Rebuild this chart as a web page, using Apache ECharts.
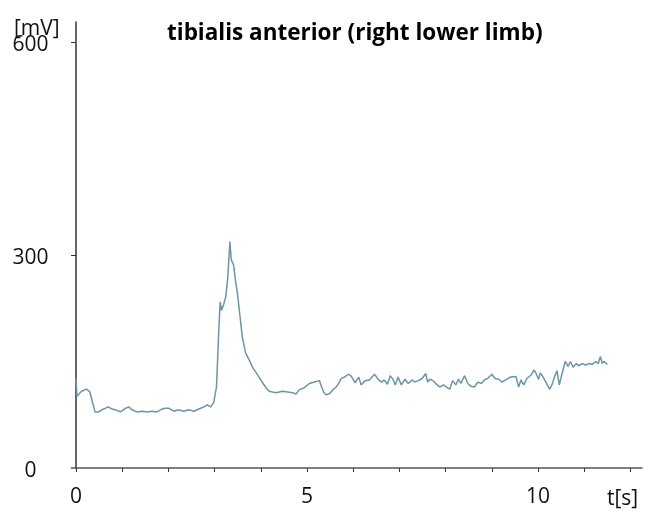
<!DOCTYPE html>
<html>
<head>
<meta charset="utf-8">
<script src="https://cdn.jsdelivr.net/npm/echarts@6/dist/echarts.min.js"></script>
<style>
  html, body { margin: 0; padding: 0; background: #fff; }
  #chart { width: 657px; height: 512px; }
</style>
</head>
<body>
<div id="chart"></div>
<script>
// time [s] and amplitude [mV]
var times = [
  0.00, 0.02, 0.12, 0.23, 0.30, 0.41, 0.49, 0.56, 0.63, 0.70, 0.78, 0.85, 0.96,
  1.07, 1.14, 1.21, 1.32, 1.43, 1.54, 1.65, 1.75, 1.86, 1.93, 2.01, 2.12, 2.22,
  2.33, 2.44, 2.55, 2.66, 2.77, 2.84, 2.91, 2.98, 3.04, 3.09, 3.12, 3.15, 3.19,
  3.24, 3.28, 3.33, 3.36, 3.41, 3.46, 3.49, 3.55, 3.60, 3.67, 3.75, 3.82, 3.89,
  3.96, 4.04, 4.11, 4.18, 4.25, 4.33, 4.40, 4.47, 4.58, 4.69, 4.76, 4.83, 4.94,
  5.05, 5.16, 5.27, 5.30, 5.36, 5.41, 5.49, 5.56, 5.63, 5.70, 5.74, 5.81, 5.90,
  5.96, 6.04, 6.12, 6.17, 6.26, 6.35, 6.46, 6.54, 6.61, 6.67, 6.74, 6.80, 6.86,
  6.91, 6.97, 7.04, 7.12, 7.19, 7.28, 7.33, 7.41, 7.49, 7.57, 7.61, 7.66, 7.73,
  7.80, 7.88, 7.95, 8.02, 8.09, 8.15, 8.22, 8.28, 8.33, 8.41, 8.48, 8.55, 8.62,
  8.70, 8.77, 8.84, 8.91, 9.00, 9.07, 9.15, 9.22, 9.30, 9.40, 9.52, 9.58, 9.63,
  9.69, 9.76, 9.85, 9.91, 9.96, 10.01, 10.05, 10.10, 10.17, 10.25, 10.30, 10.36,
  10.41, 10.46, 10.52, 10.59, 10.65, 10.70, 10.76, 10.83, 10.88, 10.96, 11.03,
  11.10, 11.17, 11.25, 11.30, 11.35, 11.39, 11.43, 11.50
];
var values = [
  127, 101, 108, 111, 107, 79, 79, 82, 84, 86, 83, 82, 79,
  84, 86, 82, 79, 80, 79, 80, 79, 83, 84, 84, 80, 82,
  80, 82, 80, 83, 86, 89, 86, 92, 114, 194, 234, 222, 229,
  241, 265, 319, 293, 286, 260, 248, 213, 184, 162, 152, 142, 135,
  128, 120, 113, 108, 107, 106, 107, 108, 107, 106, 104, 110, 113,
  119, 121, 123, 117, 107, 103, 105, 110, 114, 121, 126, 128, 132,
  129, 120, 128, 117, 123, 124, 132, 125, 121, 124, 118, 130, 125,
  117, 128, 117, 125, 119, 124, 121, 123, 126, 133, 121, 125, 123,
  118, 114, 117, 114, 111, 123, 117, 125, 119, 130, 119, 115, 114,
  121, 119, 124, 126, 132, 126, 125, 121, 124, 128, 129, 114, 124,
  117, 126, 131, 138, 133, 125, 134, 129, 121, 111, 117, 129,
  137, 117, 133, 150, 143, 150, 142, 147, 144, 147, 145,
  147, 146, 150, 147, 157, 147, 150, 146
];
var xTicks = [0, 1, 2, 3, 4, 5, 6, 7, 8, 9, 10, 11, 12];
var xLabels = [0, 5, 10];
var yTicks = [300, 600];
var yLabels = [0, 300, 600];

var points = times.map(function (t, i) { return [t, values[i]]; });

var chart = echarts.init(document.getElementById('chart'));
chart.setOption({
  animation: false,
  backgroundColor: '#fff',
  textStyle: { fontFamily: 'Open Sans' },
  title: [
    {
      text: 'tibialis anterior (right lower limb)',
      left: 162, top: 17,
      textStyle: { fontFamily: 'Open Sans', fontWeight: 'bold', fontSize: 22.5, color: '#000' }
    },
    {
      text: '[mV]',
      left: 9, top: 14,
      textStyle: { fontFamily: 'Open Sans', fontWeight: 'normal', fontSize: 21, color: '#111' }
    },
    {
      text: 't[s]',
      left: 602, top: 484,
      textStyle: { fontFamily: 'Open Sans', fontWeight: 'normal', fontSize: 21, color: '#111' }
    }
  ],
  grid: { left: 71.4, right: 15, top: 22, bottom: 44 },
  xAxis: {
    type: 'value',
    min: -0.1,
    max: 12.25,
    splitLine: { show: false },
    axisLine: { lineStyle: { color: '#555', width: 1.5 } },
    axisTick: { customValues: xTicks, length: 4, lineStyle: { color: '#333' } },
    axisLabel: {
      customValues: xLabels,
      margin: 19,
      fontSize: 21,
      color: '#111'
    }
  },
  yAxis: {
    type: 'value',
    min: 0,
    max: 628,
    splitLine: { show: false },
    axisLine: { show: true, onZero: true, lineStyle: { color: '#333', width: 1.5 } },
    axisTick: { show: true, customValues: yTicks, length: 5, lineStyle: { color: '#333' } },
    axisLabel: {
      customValues: yLabels,
      align: 'center',
      margin: 41,
      fontSize: 21,
      color: '#111',
      verticalAlign: 'top',
      padding: [-7, 0, 0, 0]
    }
  },
  series: [
    {
      type: 'line',
      data: points,
      showSymbol: false,
      lineStyle: { color: '#6a96a6', width: 1.5 }
    }
  ]
});
</script>
</body>
</html>
